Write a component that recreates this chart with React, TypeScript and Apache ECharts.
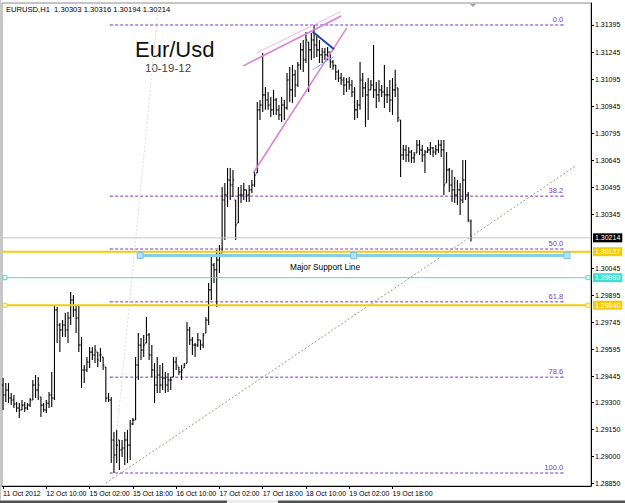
import React, { useEffect, useRef } from "react";
import * as echarts from "echarts";

// ---------- DATA (EURUSD H1) ----------
const opens = [
1.29397,1.29342,1.29370,1.29325,1.29314,1.29292,1.29270,1.29259,1.29286,1.29270,
1.29286,1.29314,1.29397,1.29370,1.29331,1.29286,1.29259,1.29297,1.29342,1.29325,
1.29814,1.29730,1.29703,1.29730,1.29703,1.29769,1.29869,1.29814,1.29769,1.29619,
1.29481,1.29481,1.29525,1.29580,1.29564,1.29580,1.29564,1.29553,1.29497,1.29325,
1.29314,1.29092,1.29009,1.29092,1.29037,1.29048,1.29092,1.29064,1.29181,1.29203,
1.29508,1.29619,1.29592,1.29630,1.29675,1.29564,1.29481,1.29397,1.29453,1.29397,
1.29436,1.29397,1.29425,1.29442,1.29525,1.29497,1.29470,1.29492,1.29519,1.29703,
1.29647,1.29619,1.29619,1.29647,1.29619,1.29686,1.29758,1.29925,1.30063,1.30036,
1.30091,1.30130,1.30424,1.30452,1.30535,1.30507,1.30424,1.30296,1.30452,1.30452,
1.30480,1.30452,1.30480,1.30507,1.30574,1.30924,1.30951,1.31007,1.30979,1.30951,
1.30924,1.30979,1.30924,1.30896,1.30951,1.30935,1.31090,1.31035,1.31118,1.31062,
1.31173,1.31257,1.31201,1.31301,1.31257,1.31312,1.31284,1.31257,1.31229,1.31245,
1.31229,1.31245,1.31190,1.31173,1.31134,1.31101,1.31090,1.31062,1.31079,1.31062,
1.31023,1.30924,1.30951,1.31090,1.31046,1.31007,1.31035,1.31062,1.31035,1.31007,
1.31035,1.31023,1.31007,1.31007,1.30979,1.31035,1.31046,1.30868,1.30674,1.30702,
1.30674,1.30690,1.30657,1.30685,1.30729,1.30702,1.30674,1.30690,1.30702,1.30713,
1.30690,1.30702,1.30729,1.30702,1.30518,1.30591,1.30507,1.30480,1.30452,1.30480,
1.30424,1.30535,1.30452,1.30303];
const highs = [
1.29436,1.29408,1.29408,1.29353,1.29342,1.29303,1.29297,1.29314,1.29303,1.29297,
1.29325,1.29425,1.29453,1.29442,1.29331,1.29297,1.29314,1.29358,1.29470,1.29841,
1.29830,1.29741,1.29758,1.29797,1.29802,1.29913,1.29897,1.29841,1.29841,1.29664,
1.29508,1.29553,1.29608,1.29608,1.29619,1.29580,1.29603,1.29553,1.29497,1.29353,
1.29331,1.29136,1.29148,1.29092,1.29092,1.29136,1.29148,1.29203,1.29214,1.29553,
1.29686,1.29658,1.29675,1.29775,1.29686,1.29619,1.29519,1.29553,1.29508,1.29519,
1.29470,1.29464,1.29442,1.29553,1.29553,1.29497,1.29508,1.29519,1.29747,1.29719,
1.29664,1.29630,1.29686,1.29647,1.29686,1.29775,1.29963,1.30108,1.30074,1.30147,
1.30174,1.30496,1.30518,1.30602,1.30602,1.30591,1.30424,1.30496,1.30507,1.30518,
1.30480,1.30507,1.30535,1.30579,1.30968,1.30979,1.31240,1.31051,1.31023,1.30996,
1.31035,1.30990,1.30951,1.30996,1.30979,1.31129,1.31162,1.31173,1.31146,1.31190,
1.31295,1.31312,1.31356,1.31301,1.31351,1.31395,1.31340,1.31312,1.31268,1.31268,
1.31273,1.31245,1.31201,1.31173,1.31146,1.31129,1.31107,1.31101,1.31107,1.31090,
1.31051,1.30979,1.31190,1.31129,1.31079,1.31101,1.31090,1.31284,1.31079,1.31090,
1.31062,1.31173,1.31051,1.31090,1.31101,1.31146,1.31046,1.30868,1.30729,1.30729,
1.30718,1.30702,1.30690,1.30757,1.30757,1.30729,1.30702,1.30718,1.30746,1.30718,
1.30729,1.30757,1.30757,1.30757,1.30690,1.30602,1.30591,1.30552,1.30535,1.30518,
1.30646,1.30646,1.30468,1.30316];
const lows = [
1.29259,1.29303,1.29297,1.29286,1.29270,1.29247,1.29214,1.29259,1.29247,1.29259,
1.29275,1.29314,1.29325,1.29314,1.29220,1.29247,1.29242,1.29270,1.29275,1.29314,
1.29630,1.29580,1.29664,1.29664,1.29630,1.29730,1.29775,1.29686,1.29580,1.29381,
1.29408,1.29470,1.29492,1.29536,1.29519,1.29497,1.29525,1.29481,1.29303,1.29303,
1.28964,1.28909,1.28964,1.28926,1.28998,1.28953,1.28964,1.28981,1.29175,1.29203,
1.29425,1.29536,1.29553,1.29630,1.29536,1.29442,1.29297,1.29353,1.29353,1.29370,
1.29353,1.29358,1.29370,1.29442,1.29481,1.29453,1.29425,1.29492,1.29519,1.29619,
1.29564,1.29553,1.29608,1.29592,1.29603,1.29686,1.29730,1.29869,1.29963,1.29830,
1.30019,1.30130,1.30202,1.30385,1.30424,1.30441,1.30202,1.30296,1.30407,1.30424,
1.30413,1.30413,1.30463,1.30496,1.30574,1.30868,1.30912,1.30924,1.30924,1.30885,
1.30896,1.30896,1.30868,1.30857,1.30868,1.30924,1.30968,1.30962,1.30996,1.31051,
1.31146,1.31134,1.31184,1.31023,1.31201,1.31212,1.31218,1.31184,1.31184,1.31201,
1.31201,1.31157,1.31146,1.31090,1.31079,1.31062,1.31007,1.31023,1.31035,1.30996,
1.30868,1.30879,1.30924,1.30996,1.30829,1.30868,1.31035,1.30990,1.30935,1.30968,
1.30996,1.30935,1.30962,1.30912,1.30896,1.30996,1.30857,1.30552,1.30646,1.30635,
1.30635,1.30629,1.30629,1.30685,1.30674,1.30635,1.30574,1.30685,1.30674,1.30663,
1.30674,1.30685,1.30663,1.30452,1.30518,1.30468,1.30413,1.30407,1.30396,1.30341,
1.30407,1.30424,1.30302,1.30194];
const closes = [
1.29342,1.29370,1.29325,1.29314,1.29292,1.29270,1.29259,1.29286,1.29270,1.29286,
1.29314,1.29397,1.29370,1.29397,1.29286,1.29259,1.29297,1.29342,1.29325,1.29814,
1.29730,1.29703,1.29730,1.29703,1.29769,1.29869,1.29814,1.29769,1.29619,1.29481,
1.29481,1.29525,1.29580,1.29564,1.29592,1.29536,1.29564,1.29508,1.29325,1.29314,
1.29092,1.29009,1.29064,1.29037,1.29048,1.29092,1.29064,1.29181,1.29203,1.29508,
1.29619,1.29592,1.29619,1.29675,1.29564,1.29481,1.29397,1.29453,1.29397,1.29436,
1.29397,1.29425,1.29425,1.29525,1.29508,1.29470,1.29481,1.29508,1.29703,1.29647,
1.29619,1.29619,1.29647,1.29619,1.29675,1.29758,1.29925,1.30063,1.30036,1.30091,
1.30119,1.30424,1.30452,1.30535,1.30507,1.30535,1.30285,1.30452,1.30452,1.30480,
1.30452,1.30480,1.30507,1.30563,1.30924,1.30951,1.31007,1.30979,1.30951,1.30924,
1.30979,1.30924,1.30896,1.30951,1.30935,1.31090,1.31035,1.31118,1.31062,1.31173,
1.31257,1.31201,1.31312,1.31257,1.31312,1.31284,1.31257,1.31229,1.31245,1.31229,
1.31245,1.31190,1.31168,1.31134,1.31101,1.31090,1.31062,1.31079,1.31062,1.31023,
1.30924,1.30951,1.31090,1.31046,1.31007,1.31035,1.31062,1.31035,1.31007,1.31035,
1.31023,1.31007,1.31007,1.30979,1.31035,1.31062,1.30879,1.30674,1.30702,1.30674,
1.30690,1.30657,1.30674,1.30729,1.30702,1.30674,1.30690,1.30702,1.30713,1.30690,
1.30702,1.30729,1.30702,1.30507,1.30591,1.30507,1.30480,1.30452,1.30480,1.30424,
1.30535,1.30452,1.30313,1.30214];

const timeLabels = ["11 Oct 2012", "12 Oct 10:00", "15 Oct 02:00", "15 Oct 18:00", "16 Oct 10:00",
  "17 Oct 02:00", "17 Oct 18:00", "18 Oct 10:00", "19 Oct 02:00", "19 Oct 18:00"];
const timeLabelBars = [0, 16, 32, 48, 64, 80, 96, 112, 128, 144];
const priceTicks = [1.31395, 1.31245, 1.31095, 1.30945, 1.30795, 1.30645, 1.30495, 1.30345,
  1.30045, 1.29895, 1.29745, 1.29595, 1.29445, 1.29300, 1.29150, 1.29000, 1.28850];

const fibLevels = [0, 38.2, 50, 61.8, 78.6, 100];
const fibHigh = 1.31395;
const fibLow = 1.28909;
const fibFromBar = 39.6;
const fibToBar = 207.1;

const bidPrice = 1.30214;
const upperYellowPrice = 1.30137;
const cyanPrice = 1.29993;
const lowerYellowPrice = 1.29840;
const supportPrice = 1.30116;
const supportBars = [50.7, 129.6, 208.5];
const endMarkBars = [0.7, 216.3];

const riseLine = [[38, 1.28853], [212, 1.30616]];
const steepLine = [[40.4, 1.28881], [57.4, 1.3149]];
const wedgeUpperA = [[88.8, 1.31168], [125.0, 1.31445]];
const wedgeUpperB = [[93.8, 1.3124], [124.6, 1.31467]];
const wedgeLower = [[92.5, 1.30574], [127.1, 1.31379]];
const darkBlueLine = [[114.5, 1.31358], [122.4, 1.3126]];
const lightBlueLine = [[114.5, 1.31146], [122.2, 1.31219]];

const xMin = -0.4;
const xMax = 217.4;
const yMin = 1.28837;
const yMax = 1.31517;

const FONT = "'Liberation Sans', Arial, sans-serif";

function seg(pts: number[][], color: string, width: number, type: any, z: number) {
  return {
    type: "line", data: pts, symbol: "none", silent: true, z,
    lineStyle: { color, width, type },
  };
}

function hLine(price: number, color: string, width: number, labelBg: string, labelColor: string, marks: boolean) {
  const data: any[] = [{ value: [xMin, price], symbol: "none" }];
  if (marks) endMarkBars.forEach((b) => data.push([b, price]));
  data.push({ value: [xMax, price], symbol: "none" });
  return {
    type: "line", data, silent: true, z: 4,
    symbol: "rect", symbolSize: 4, showSymbol: true, showAllSymbol: true,
    itemStyle: { color: "#ffffff", borderColor: color, borderWidth: 1 },
    lineStyle: { color, width },
    endLabel: {
      show: true, formatter: () => price.toFixed(5), backgroundColor: labelBg, color: labelColor,
      fontSize: 7, fontFamily: FONT, padding: [1, 2, 1, 2], distance: 2,
    },
  };
}

export default function App() {
  const ref = useRef<HTMLDivElement>(null);
  useEffect(() => {
    if (!ref.current) return;
    const chart = echarts.init(ref.current, null, { renderer: "svg" });
    const bars = opens.map((o, i) => [i, o, highs[i], lows[i], closes[i]]);
    const n = opens.length - 1;
    const title = `EURUSD,H1  ${opens[n].toFixed(5)} ${highs[n].toFixed(5)} ${lows[n].toFixed(5)} ${closes[n].toFixed(5)}`;

    const fibSeries = fibLevels.map((lvl) => {
      const p = fibHigh - ((fibHigh - fibLow) * lvl) / 100;
      return {
        type: "line", silent: true, z: 1,
        data: [[fibFromBar, p], { value: [fibToBar, p], label: { show: true } }],
        symbol: "circle", symbolSize: 1, showSymbol: true,
        itemStyle: { color: "#7a38c0" },
        lineStyle: { color: "#7a38c0", width: 1, type: [3, 2] },
        label: {
          show: false, position: "top", align: "right", distance: 1,
          formatter: () => lvl.toFixed(1), color: "#7a38c0", fontSize: 7.5, fontFamily: FONT,
        },
      };
    });

    const option: any = {
      animation: false,
      backgroundColor: "#ffffff",
      grid: { left: 2, right: 34, top: 3, bottom: 17, show: true, borderColor: "#8c8c8c", borderWidth: 1 },
      xAxis: {
        type: "value", min: xMin, max: xMax,
        splitLine: { show: false },
        axisLine: { show: true, onZero: false, lineStyle: { color: "#000" } },
        axisTick: { show: true, customValues: timeLabelBars, length: 3, lineStyle: { color: "#000" } },
        axisLabel: {
          customValues: timeLabelBars,
          formatter: (v: number) => timeLabels[timeLabelBars.indexOf(Math.round(v))] || "",
          align: "left", fontSize: 7, color: "#000", margin: 4, fontFamily: FONT,
        },
      },
      yAxis: {
        type: "value", position: "right", min: yMin, max: yMax,
        splitLine: { show: false },
        axisLine: { show: true, onZero: false, lineStyle: { color: "#000" } },
        axisTick: { show: true, customValues: priceTicks, length: 3, lineStyle: { color: "#000" } },
        axisLabel: {
          customValues: priceTicks, formatter: (v: number) => v.toFixed(5),
          fontSize: 7, color: "#000", margin: 4, fontFamily: FONT,
        },
      },
      series: [
        ...fibSeries,
        seg(steepLine, "#e4d4e4", 1, [2, 2], 1),
        seg(riseLine, "#9a9a78", 1, [2, 2], 1),
        {
          type: "custom", z: 2, silent: true,
          data: bars,
          encode: { x: 0, y: [1, 2, 3, 4] },
          renderItem: (_params: any, api: any) => {
            const i = api.value(0);
            const pO = api.coord([i, api.value(1)]);
            const pH = api.coord([i, api.value(2)]);
            const pL = api.coord([i, api.value(3)]);
            const pC = api.coord([i, api.value(4)]);
            const st = { stroke: "#000", lineWidth: 1.1 };
            return {
              type: "group",
              children: [
                { type: "line", shape: { x1: pH[0], y1: pH[1], x2: pL[0], y2: pL[1] }, style: st },
                { type: "line", shape: { x1: pO[0] - 1.2, y1: pO[1], x2: pO[0], y2: pO[1] }, style: st },
                { type: "line", shape: { x1: pC[0], y1: pC[1], x2: pC[0] + 1.2, y2: pC[1] }, style: st },
              ],
            };
          },
        },
        hLine(bidPrice, "#c4c4c4", 1, "#000000", "#ffffff", false),
        hLine(upperYellowPrice, "#f2cc0c", 2, "#f2cc0c", "#ffffff", false),
        hLine(cyanPrice, "#40e0d0", 1, "#40e0d0", "#ffffff", true),
        hLine(lowerYellowPrice, "#f2cc0c", 2, "#f2cc0c", "#ffffff", true),
        {
          type: "line", silent: true, z: 5,
          data: supportBars.map((b) => [b, supportPrice]),
          symbol: "rect", symbolSize: 6, showSymbol: true,
          itemStyle: { color: "#b8e2f4", borderColor: "#7cc4e8", borderWidth: 1 },
          lineStyle: { color: "#87ceeb", width: 3 },
        },
        seg(wedgeUpperB, "#f0b4f0", 1, "solid", 4),
        seg(wedgeUpperA, "#dd7ddd", 1.5, "solid", 4),
        seg(wedgeLower, "#dd7ddd", 1.5, "solid", 4),
        seg(darkBlueLine, "#2a44a8", 2, "solid", 4),
        seg(lightBlueLine, "#7fa8ff", 1, "solid", 4),
      ],
      graphic: [
        { type: "rect", shape: { x: 0, y: 0, width: 1, height: 500 }, style: { fill: "#c8c8c8" }, silent: true },
        { type: "rect", shape: { x: 0, y: 500.5, width: 625, height: 2.5 }, style: { fill: "#505050" }, silent: true },
        { type: "rect", shape: { x: 227, y: 500, width: 51, height: 3 }, style: { fill: "#ececec" }, silent: true },
        { type: "polygon", shape: { points: [[470, 4], [476, 4], [473, 7]] }, style: { fill: "#a0a0a0" }, silent: true },
        { type: "text", x: 6, y: 9, style: { text: title, fill: "#000", fontSize: 7.6, fontFamily: FONT, verticalAlign: "middle" }, silent: true },
        { type: "text", x: 135, y: 49, style: { text: "Eur/Usd", fill: "#111", fontSize: 22, fontFamily: FONT, verticalAlign: "middle" }, silent: true },
        { type: "text", x: 145, y: 68, style: { text: "10-19-12", fill: "#444", fontSize: 11.5, fontFamily: FONT, verticalAlign: "middle" }, silent: true },
        { type: "text", x: 290, y: 267, style: { text: "Major Support Line", fill: "#000", fontSize: 8.3, fontFamily: FONT, verticalAlign: "middle" }, silent: true },
      ],
    };
    chart.setOption(option);
    return () => chart.dispose();
  }, []);
  return <div ref={ref} style={{ position: "absolute", left: 0, top: 0, width: 625, height: 503 }} />;
}
